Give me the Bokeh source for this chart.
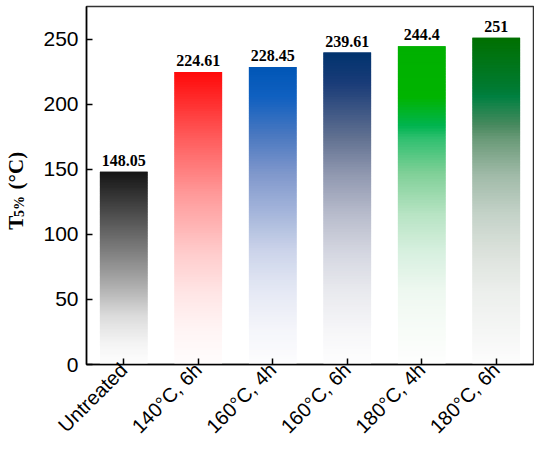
import math
from bokeh.plotting import figure
from bokeh.models import FactorRange, Range1d, ColumnDataSource, FixedTicker, LinearAxis
from bokeh.core.properties import value
from bokeh.embed import file_html
from bokeh.resources import INLINE

categories = ["Untreated", "140°C, 6h", "160°C, 4h", "160°C, 6h", "180°C, 4h", "180°C, 6h"]
t5_values = [148.05, 224.61, 228.45, 239.61, 244.4, 251]
y_ticks = [0, 50, 100, 150, 200, 250]
y_title_main = "T"
y_title_sub = "5%"
y_title_unit = "(°C)"

# gradient colour stops per bar: (fraction from bar top, colour)
gradient_stops = [
    [(0, "#151515"), (0.25, "#555555"), (0.45, "#888888"), (0.6, "#b0b0b0"), (0.75, "#dcdcdc"), (0.9, "#f5f5f5"), (1, "#fefefe")],
    [(0, "#ff0a0a"), (0.09, "#ff2a2a"), (0.22, "#ff5a5a"), (0.42, "#ff9a9a"), (0.62, "#ffcccc"), (0.75, "#ffe4e4"), (0.88, "#fff4f4"), (1, "#fffdfd")],
    [(0, "#0056b6"), (0.1, "#1060c0"), (0.23, "#4a78c0"), (0.36, "#8098cc"), (0.5, "#a8b8dc"), (0.62, "#ccd4ea"), (0.75, "#e4e8f4"), (0.88, "#f4f5fa"), (1, "#fdfdfe")],
    [(0, "#00336e"), (0.1, "#1a3c78"), (0.27, "#607090"), (0.39, "#9098b0"), (0.52, "#b8bccc"), (0.64, "#d4d6e0"), (0.76, "#e8e9ee"), (0.89, "#f6f6f8"), (1, "#fefefe")],
    [(0, "#00b000"), (0.16, "#00b400"), (0.25, "#00b450"), (0.29, "#30c070"), (0.4, "#80d098"), (0.53, "#b8e4c4"), (0.65, "#d8f0e0"), (0.77, "#eef8f0"), (0.9, "#f8fcf8"), (1, "#fefefe")],
    [(0, "#007000"), (0.15, "#007a30"), (0.18, "#008040"), (0.27, "#4a8a60"), (0.31, "#6a9a78"), (0.42, "#a0baa8"), (0.54, "#c4d2c8"), (0.66, "#dce2dc"), (0.78, "#ecefec"), (0.9, "#f5f6f5"), (1, "#fdfdfd")],
]


def hex2rgb(h):
    h = h.lstrip("#")
    return tuple(int(h[i:i + 2], 16) for i in (0, 2, 4))


def interp(stops, t):
    for (t0, c0), (t1, c1) in zip(stops[:-1], stops[1:]):
        if t0 <= t <= t1:
            f = 0 if t1 == t0 else (t - t0) / (t1 - t0)
            a, b = hex2rgb(c0), hex2rgb(c1)
            r = [round(a[i] + (b[i] - a[i]) * f) for i in range(3)]
            return "#%02x%02x%02x" % tuple(r)
    return stops[-1][1]


N = 120
xs, tops, bottoms, colors = [], [], [], []
for cat, v, stops in zip(categories, t5_values, gradient_stops):
    for k in range(N):
        xs.append(cat)
        bottoms.append(v * k / N)
        tops.append(min(v, v * (k + 2.0) / N))  # overlap slices to avoid seams
        colors.append(interp(stops, 1 - (k + 0.5) / N))

bar_src = ColumnDataSource(dict(x=xs, top=tops, bottom=bottoms, color=colors))
lab_src = ColumnDataSource(dict(x=categories, y=t5_values, text=[f"{v:g}" for v in t5_values]))

NBSP = "\u00a0"

p = figure(
    width=534, height=448,
    x_range=FactorRange(factors=categories, range_padding=0),
    y_range=Range1d(0, 275),
    output_backend="svg", toolbar_location=None,
    min_border_left=83, min_border_right=1, min_border_top=6, min_border_bottom=80,
)
p.background_fill_color = "white"
p.border_fill_color = "white"
p.outline_line_color = "#333333"
p.outline_line_width = 1.5
p.grid.visible = False

p.vbar(x="x", top="top", bottom="bottom", width=0.64, fill_color="color",
       line_color=None, source=bar_src)

p.text(x="x", y="y", text="text", source=lab_src, text_align="center", text_baseline="bottom",
       y_offset=-6, text_font=value("Liberation Serif"), text_font_style="bold",
       text_font_size="16px", text_color="black")

p.yaxis.ticker = FixedTicker(ticks=y_ticks)
p.yaxis.minor_tick_line_color = None
p.yaxis.major_tick_in = 6
p.yaxis.major_tick_out = 0
p.yaxis.major_label_standoff = 8
p.yaxis.major_label_text_font = "Liberation Sans"
p.yaxis.major_label_text_font_size = "21px"
p.yaxis.major_label_text_color = "black"
# subscript part of the y title (inner line)
p.yaxis.axis_label = y_title_sub + NBSP * 12
p.yaxis.axis_label_standoff = 13
p.yaxis.axis_label_text_font = "Liberation Serif"
p.yaxis.axis_label_text_font_style = "bold"
p.yaxis.axis_label_text_font_size = "14px"
p.yaxis.axis_label_text_color = "black"

# main part of the y title (outer line): "T      (°C)"
ax2 = LinearAxis(ticker=FixedTicker(ticks=[]), axis_line_color=None,
                 major_tick_line_color=None, minor_tick_line_color=None,
                 major_tick_in=0, major_tick_out=0, minor_tick_in=0, minor_tick_out=0,
                 major_label_standoff=0,
                 axis_label=y_title_main + NBSP * 5 + y_title_unit + NBSP * 2,
                 axis_label_standoff=-18,
                 axis_label_text_font="Liberation Serif", axis_label_text_font_style="bold",
                 axis_label_text_font_size="21px",
                 axis_label_text_color="black")
p.add_layout(ax2, "left")

p.xaxis.major_tick_in = 6
p.xaxis.major_tick_out = 0
p.xaxis.major_label_orientation = math.pi / 4
p.xaxis.major_label_standoff = 2
p.xaxis.major_label_text_font = "Liberation Sans"
p.xaxis.major_label_text_font_size = "20px"
p.xaxis.major_label_text_color = "black"

for ax in (p.xaxis[0], p.yaxis[0]):
    ax.axis_line_color = "black"
    ax.axis_line_width = 1.5
    ax.major_tick_line_color = "black"
    ax.major_tick_line_width = 1.5

open("out.html", "w").write(file_html(p, INLINE))
